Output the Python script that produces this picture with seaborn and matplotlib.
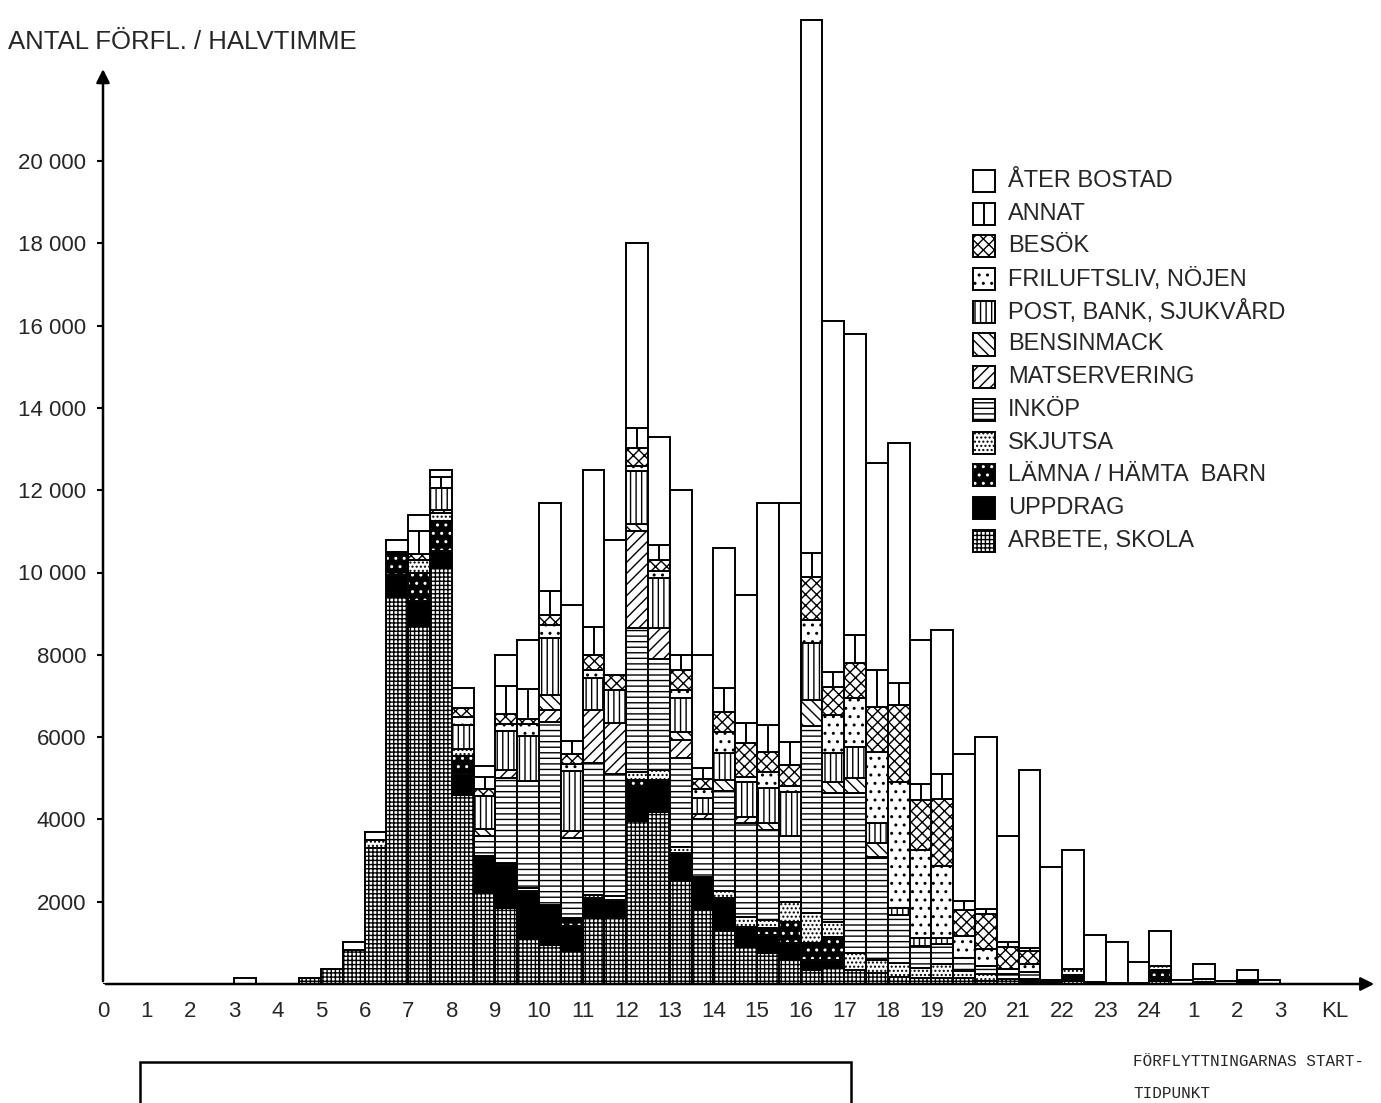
import numpy as np
import pandas as pd
import matplotlib
matplotlib.use('Agg')
import matplotlib.pyplot as plt
from matplotlib.patches import Rectangle
from matplotlib.lines import Line2D
import seaborn as sns

sns.set_theme(style='white')
plt.rcParams['font.family'] = ['Liberation Sans', 'DejaVu Sans']
plt.rcParams['hatch.linewidth'] = 1.0

# halvtimmar 0.0 ... 26.5 (27 = kl 3 nästa natt)
halvtimme = np.arange(0, 27, 0.5)

# antal förflyttningar per halvtimme och ärende
#          0-4.5 h                                  5-9.5 h
arbete  = [0, 0, 0, 0, 0, 0, 0, 0, 0, 150,         370, 830, 3300, 9400, 8700, 10100, 4600, 2200, 1850, 1100,
           950, 800, 1600, 1600, 3950, 4180, 2530, 1800, 1300, 900,
           750, 600, 340, 390, 340, 270, 170, 150, 150, 150,
           80, 120, 60, 50, 80, 50, 30, 30, 80, 0,
           0, 0, 50, 0]
uppdrag = [0, 0, 0, 0, 0, 0, 0, 0, 0, 0,           0, 0, 0, 550, 600, 420, 500, 850, 1050, 1150,
           970, 600, 490, 450, 850, 780, 660, 800, 800, 490,
           450, 400, 240, 200, 0, 0, 0, 0, 0, 0,
           0, 0, 60, 0, 150, 0, 0, 0, 100, 0,
           60, 0, 40, 0]
lamna   = [0, 0, 0, 0, 0, 0, 0, 0, 0, 0,           0, 0, 0, 550, 700, 730, 450, 0, 0, 0,
           0, 150, 0, 0, 150, 0, 0, 0, 0, 0,
           150, 500, 410, 560, 0, 0, 0, 0, 0, 0,
           0, 0, 0, 0, 0, 0, 0, 0, 150, 0,
           0, 0, 0, 0]
skjutsa = [0, 0, 0, 0, 0, 0, 0, 0, 0, 0,           0, 0, 200, 0, 300, 200, 150, 50, 50, 80,
           0, 50, 70, 100, 200, 240, 150, 0, 150, 240,
           200, 500, 730, 360, 410, 320, 340, 240, 340, 160,
           160, 0, 0, 0, 130, 0, 0, 0, 100, 0,
           60, 0, 0, 0]
inkop   = [0, 0, 0, 0, 0, 0, 0, 0, 0, 0,           0, 0, 0, 0, 0, 0, 0, 500, 2050, 2600,
           4450, 1950, 3210, 2950, 3500, 2700, 2160, 1400, 2450, 2280,
           2190, 1600, 4560, 3130, 3890, 2500, 1170, 530, 480, 320,
           200, 120, 160, 50, 0, 0, 0, 0, 0, 0,
           0, 0, 0, 0]
mat     = [0, 0, 0, 0, 0, 0, 0, 0, 0, 0,           0, 0, 0, 0, 0, 80, 0, 0, 200, 0,
           290, 170, 1290, 1250, 2350, 750, 440, 120, 0, 150,
           0, 0, 0, 0, 0, 0, 0, 0, 0, 0,
           0, 0, 0, 0, 0, 0, 0, 0, 0, 0,
           0, 0, 0, 0]
bensin  = [0, 0, 0, 0, 0, 0, 0, 0, 0, 0,           0, 0, 0, 0, 0, 0, 0, 170, 0, 0,
           360, 0, 0, 0, 170, 0, 190, 0, 250, 0,
           170, 0, 610, 270, 370, 330, 0, 0, 0, 0,
           0, 0, 0, 0, 0, 0, 0, 0, 0, 0,
           0, 0, 0, 0]
post    = [0, 0, 0, 0, 0, 0, 0, 0, 0, 0,           0, 0, 0, 0, 0, 530, 600, 800, 950, 1100,
           1400, 1460, 780, 800, 1290, 1220, 830, 390, 660, 850,
           850, 1070, 1390, 700, 750, 490, 170, 190, 150, 0,
           0, 0, 0, 0, 0, 0, 0, 0, 0, 0,
           0, 0, 0, 0]
friluft = [0, 0, 0, 0, 0, 0, 0, 0, 0, 0,           0, 0, 0, 0, 0, 0, 200, 0, 170, 290,
           300, 170, 200, 0, 120, 170, 190, 240, 520, 120,
           390, 150, 560, 930, 1190, 1730, 3060, 2150, 1750, 530,
           410, 120, 200, 0, 0, 0, 0, 0, 0, 0,
           0, 0, 0, 0]
besok   = [0, 0, 0, 0, 0, 0, 0, 0, 0, 0,           0, 0, 0, 0, 150, 0, 200, 170, 240, 120,
           240, 240, 360, 350, 440, 270, 490, 220, 490, 830,
           490, 490, 1040, 680, 850, 1090, 1870, 1210, 1620, 650,
           850, 530, 320, 0, 0, 0, 0, 0, 0, 0,
           0, 0, 0, 0]
annat   = [0, 0, 0, 0, 0, 0, 0, 0, 0, 0,           0, 0, 0, 0, 550, 270, 0, 300, 680, 730,
           600, 320, 680, 0, 490, 360, 360, 270, 580, 490,
           650, 580, 590, 370, 680, 900, 530, 390, 610, 200,
           120, 120, 80, 0, 0, 0, 0, 0, 0, 0,
           0, 0, 0, 0]
ater    = [0, 0, 0, 0, 0, 0, 150, 0, 0, 0,         0, 190, 200, 300, 400, 170, 500, 260, 760, 1180,
           2140, 3290, 3820, 3300, 4490, 2630, 4000, 2760, 3400, 3100,
           5410, 5810, 12950, 8510, 7320, 5020, 5840, 3490, 3500, 3590,
           4180, 2590, 4320, 2750, 2890, 1150, 1000, 500, 850, 100,
           360, 80, 250, 100]

kategorier = ['ÅTER BOSTAD', 'ANNAT', 'BESÖK', 'FRILUFTSLIV, NÖJEN',
              'POST, BANK, SJUKVÅRD', 'BENSINMACK', 'MATSERVERING', 'INKÖP',
              'SKJUTSA', 'LÄMNA / HÄMTA  BARN', 'UPPDRAG', 'ARBETE, SKOLA']
varden = [ater, annat, besok, friluft, post, bensin, mat, inkop,
          skjutsa, lamna, uppdrag, arbete]

xtick_pos = list(range(28))
xtick_lab = [str(h) for h in range(25)] + ['1', '2', '3']
ytick_pos = list(range(2000, 20001, 2000))
ytick_lab = ['2000', '4000', '6000', '8000', '10 000', '12 000',
             '14 000', '16 000', '18 000', '20 000']

# utseende per ärende: (fyllnad, mönster, mönsterfärg)
stil = {
    'ÅTER BOSTAD': ('white', None, 'black'),
    'ANNAT': ('white', None, 'black'),
    'BESÖK': ('white', 'xxx', 'black'),
    'FRILUFTSLIV, NÖJEN': ('white', '..', 'black'),
    'POST, BANK, SJUKVÅRD': ('white', '|||', 'black'),
    'BENSINMACK': ('white', '\\\\\\', 'black'),
    'MATSERVERING': ('white', '///', 'black'),
    'INKÖP': ('white', '---', 'black'),
    'SKJUTSA': ('white', '....', 'black'),
    'LÄMNA / HÄMTA  BARN': ('black', '..', 'white'),
    'UPPDRAG': ('black', None, 'black'),
    'ARBETE, SKOLA': ('white', '++++', 'black'),
}

rows = []
for kat, v in zip(kategorier, varden):
    for t, n in zip(halvtimme, v):
        rows.append((t + 0.25, kat, n))
df = pd.DataFrame(rows, columns=['tid', 'andamal', 'antal'])

W, H = 1381, 1103
fig = plt.figure(figsize=(W / 100, H / 100), dpi=100)
ax = fig.add_axes([103 / W, (H - 984) / H, (W - 103) / W, 984 / H])

sns.histplot(data=df, x='tid', weights='antal', hue='andamal', hue_order=kategorier,
             multiple='stack', binwidth=0.5, binrange=(0, 27), legend=False,
             palette={k: 'white' for k in kategorier},
             edgecolor='black', linewidth=1.4, ax=ax)

# ge varje stapeldel sitt mönster
for cont in ax.containers:
    h = np.array([p.get_height() for p in cont.patches])
    kat = None
    for k, v in zip(kategorier, varden):
        if len(v) == len(h) and np.allclose(h, v):
            kat = k
            break
    if kat is None:
        continue
    fc, hatch, hc = stil[kat]
    for p in cont.patches:
        p.set_facecolor(fc)
        p.set_alpha(1)
        p.set_hatch(hatch)
        p.set_edgecolor(hc)
        if p.get_height() <= 0:
            continue
        x0, y0, w, hh = p.get_x(), p.get_y(), p.get_width(), p.get_height()
        if hc != 'black':
            ax.add_patch(Rectangle((x0, y0), w, hh, fill=False, edgecolor='black', lw=1.4))
        if kat == 'ANNAT':
            ax.vlines(x0 + w / 2, y0, y0 + hh, colors='black', lw=1.4)

ax.set_xlim(0, (W - 103) / 43.6)
ax.set_ylim(0, 984 * 1000 / 41.15)
for s in ax.spines.values():
    s.set_visible(False)
ax.set_xlabel('')
ax.set_ylabel('')

ax.set_xticks(xtick_pos)
ax.set_xticklabels(xtick_lab)
ax.set_yticks(ytick_pos)
ax.set_yticklabels(ytick_lab)
ax.tick_params(axis='x', length=0, pad=12, labelsize=16)
ax.tick_params(axis='y', left=True, length=4, width=1.5, color='black', pad=8, labelsize=16)
ax.annotate('KL', xy=(28.26, 0), xytext=(0, -12), textcoords='offset points',
            ha='center', va='top', fontsize=16, annotation_clip=False)

# axlar med pilar
ax.annotate('', xy=(29.22, 0), xytext=(0, 0), annotation_clip=False,
            arrowprops=dict(arrowstyle='-|>', color='black', lw=1.8, mutation_scale=20))
ax.annotate('', xy=(0, 22300), xytext=(0, 0), annotation_clip=False,
            arrowprops=dict(arrowstyle='-|>', color='black', lw=1.8, mutation_scale=20))

fig.text(8 / W, 1 - 42 / H, 'ANTAL FÖRFL. / HALVTIMME', ha='left', va='center', fontsize=18.5)

# teckenförklaring
for i, kat in enumerate(kategorier):
    yc = 181 + i * 32.7
    fc, hatch, hc = stil[kat]
    fig.add_artist(Rectangle((973 / W, 1 - (yc + 11) / H), 22 / W, 22 / H,
                             transform=fig.transFigure, facecolor=fc, hatch=hatch,
                             edgecolor=hc, lw=1.4))
    if hc != 'black':
        fig.add_artist(Rectangle((973 / W, 1 - (yc + 11) / H), 22 / W, 22 / H,
                                 transform=fig.transFigure, fill=False,
                                 edgecolor='black', lw=1.4))
    if kat == 'ANNAT':
        fig.add_artist(Line2D([984 / W, 984 / W], [1 - (yc + 11) / H, 1 - (yc - 11) / H],
                              transform=fig.transFigure, color='black', lw=1.4))
    fig.text(1008 / W, 1 - yc / H, kat, ha='left', va='center', fontsize=17)

mono = ['Liberation Mono', 'DejaVu Sans Mono']
fig.text(1133 / W, 1 - 1062 / H, 'FÖRFLYTTNINGARNAS START-', ha='left', va='center',
         fontsize=11.5, family=mono)
fig.text(1133 / W, 1 - 1094 / H, 'TIDPUNKT', ha='left', va='center',
         fontsize=11.5, family=mono)

# ram nere till vänster (avklippt i originalet)
fig.add_artist(Rectangle((140 / W, -0.05), 711 / W, 0.05 + (H - 1062) / H,
                         transform=fig.transFigure, fill=False, edgecolor='black', lw=1.8))

fig.savefig('out.png', dpi=100, facecolor='white')
